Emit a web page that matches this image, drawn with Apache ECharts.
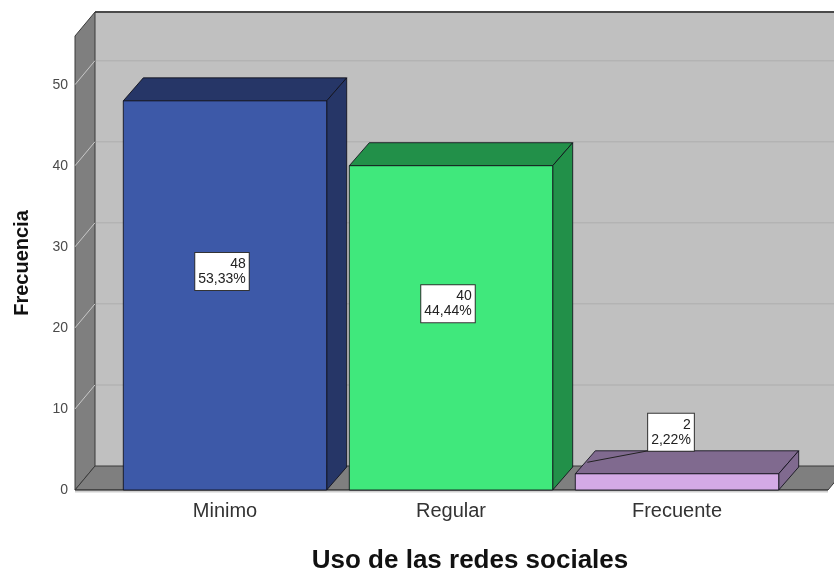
<!DOCTYPE html>
<html><head><meta charset="utf-8">
<script src="https://cdn.jsdelivr.net/npm/echarts@6/dist/echarts.min.js"></script>
<style>html,body{margin:0;padding:0;background:#fff}#c{width:834px;height:574px}</style>
</head><body><div id="c"></div>
<script>
// ---- data ----
const categories = ['Minimo', 'Regular', 'Frecuente'];
const frecuencias = [48, 40, 2];
const yTicks = [0, 10, 20, 30, 40, 50];
const frontColors = ['#3d59a8', '#40e87c', '#d4aae6'];
const shadeColors = ['#263667', '#229049', '#806a8f'];
const xTitle = 'Uso de las redes sociales';
const yTitle = 'Frecuencia';

const total = frecuencias.reduce((a, b) => a + b, 0);
const pctLabels = frecuencias.map(v => (v / total * 100).toFixed(2).replace('.', ',') + '%');

// ---- styling constants ----
const DX = 20, DY = -23;     // bar depth
const WDX = 20, WDY = -24;   // wall depth
const PADL = 37, PADR = 38;  // front frame beyond grid
const FONT = '"Liberation Sans", Arial, sans-serif';
const LBL_FONT = '14px ' + FONT;

const mctx = document.createElement('canvas').getContext('2d');
function textW(s) { mctx.font = LBL_FONT; return mctx.measureText(s).width; }

const chart = echarts.init(document.getElementById('c'), null, { renderer: 'canvas' });

function wallsRender(params, api) {
  const cs = params.coordSys;
  const L = cs.x - PADL, R = cs.x + cs.width + PADR;
  const T = cs.y, B = cs.y + cs.height;
  const RX = R + WDX + 30;
  const ch = [];
  ch.push({ type: 'polygon', shape: { points: [[L + WDX, T + WDY], [RX, T + WDY], [RX, B + WDY], [L + WDX, B + WDY]] },
    style: { fill: '#c0c0c0' } });
  yTicks.forEach(t => {
    if (t === 0) return;
    const y = api.coord([0, t])[1];
    ch.push({ type: 'line', shape: { x1: L + WDX, y1: y + WDY, x2: RX, y2: y + WDY }, style: { stroke: '#b3b3b3', lineWidth: 1.5 } });
  });
  ch.push({ type: 'line', shape: { x1: L + WDX, y1: T + WDY, x2: RX, y2: T + WDY }, style: { stroke: '#4a4a4a', lineWidth: 2 } });
  ch.push({ type: 'polygon', shape: { points: [[L, T], [L + WDX, T + WDY], [L + WDX, B + WDY], [L, B]] },
    style: { fill: '#7f7f7f', stroke: '#3a3a3a', lineWidth: 1 } });
  yTicks.forEach(t => {
    if (t === 0) return;
    const y = api.coord([0, t])[1];
    ch.push({ type: 'line', shape: { x1: L, y1: y, x2: L + WDX, y2: y + WDY }, style: { stroke: '#c8c8c8', lineWidth: 1 } });
  });
  ch.push({ type: 'polygon', shape: { points: [[L, B], [L + WDX, B + WDY], [RX, B + WDY], [RX - WDX, B], [L, B]] },
    style: { fill: '#7f7f7f', stroke: '#3a3a3a', lineWidth: 1 } });
  ch.push({ type: 'polygon', shape: { points: [[R, B], [R + WDX, B + WDY], [RX + 10, B + WDY], [RX + 10, B + 2], [R, B + 2]] },
    style: { fill: '#ffffff' } });
  ch.push({ type: 'line', shape: { x1: R, y1: B, x2: R + WDX, y2: B + WDY }, style: { stroke: '#3a3a3a', lineWidth: 1 } });
  ch.push({ type: 'line', shape: { x1: L, y1: B + 1.5, x2: R, y2: B + 1.5 }, style: { stroke: '#cfcfcf', lineWidth: 2 } });
  ch.push({ type: 'line', shape: { x1: L, y1: B, x2: R, y2: B }, style: { stroke: '#2e2e2e', lineWidth: 1.2 } });
  return { type: 'group', children: ch };
}

function barRender(params, api) {
  const i = api.value(0), v = api.value(1);
  const top = api.coord([i, v]), base = api.coord([i, 0]);
  const bw = api.size([1, 0])[0] * 0.9;
  const cx = top[0];
  const x0 = cx - bw / 2, x1 = cx + bw / 2, yt = top[1], yb = base[1];
  const stroke = 'rgba(15,15,25,0.85)';
  const ch = [
    { type: 'polygon', shape: { points: [[x0, yt], [x0 + DX, yt + DY], [x1 + DX, yt + DY], [x1, yt]] },
      style: { fill: shadeColors[i], stroke: stroke, lineWidth: 1 } },
    { type: 'polygon', shape: { points: [[x1, yt], [x1 + DX, yt + DY], [x1 + DX, yb + DY], [x1, yb]] },
      style: { fill: shadeColors[i], stroke: stroke, lineWidth: 1 } },
    { type: 'rect', shape: { x: x0, y: yt, width: bw, height: yb - yt },
      style: { fill: frontColors[i], stroke: stroke, lineWidth: 1 } }
  ];
  // data label
  const l1 = String(frecuencias[i]), l2 = pctLabels[i];
  const w = Math.max(textW(l1), textW(l2));
  const boxH = 37;
  let bx, by;
  const inside = (yb - yt) > 60;
  if (inside) { bx = cx; by = (yt + yb) / 2 - 24; }
  else { bx = cx - 3; by = yt + DY - boxH / 2; }
  if (!inside) {
    ch.push({ type: 'line', shape: { x1: bx - w / 2 - 6, y1: by + boxH / 2, x2: x0 + DX / 2 + 2, y2: yt + DY / 2 },
      style: { stroke: '#222', lineWidth: 1 } });
  }
  ch.push({ type: 'text', style: {
    text: l1 + '\n' + l2, x: bx + w / 2, y: by, align: 'right', verticalAlign: 'middle',
    font: LBL_FONT, fill: '#222', lineHeight: 15,
    backgroundColor: '#ffffff', borderColor: '#333', borderWidth: 1, padding: [3, 3, 4, 3]
  } });
  return { type: 'group', children: ch };
}

chart.setOption({
  animation: false,
  backgroundColor: '#ffffff',
  grid: { left: 112, right: 44, top: 36, bottom: 84 },
  xAxis: {
    type: 'category', data: categories,
    axisLine: { show: false }, axisTick: { show: false },
    axisLabel: { color: '#333', fontSize: 20, fontFamily: FONT, margin: 11 }
  },
  yAxis: {
    type: 'value', min: 0, max: 56, interval: 10,
    name: yTitle, nameLocation: 'middle', nameGap: 80,
    nameTextStyle: { fontSize: 20, fontWeight: 'bold', color: '#111', fontFamily: FONT },
    axisLine: { show: false }, axisTick: { show: false }, splitLine: { show: false },
    axisLabel: { color: '#4a4a4a', fontSize: 14, fontFamily: FONT, margin: 44, showMaxLabel: false,
      formatter: v => (yTicks.indexOf(v) >= 0 ? String(v) : '') }
  },
  graphic: [{ type: 'text', x: 470, y: 561,
    style: { text: xTitle, font: 'bold 26px ' + FONT, fill: '#111', align: 'center', verticalAlign: 'middle' } }],
  series: [
    { type: 'custom', renderItem: wallsRender, data: [[0, 0]], clip: false, z: 1, silent: true },
    { type: 'custom', renderItem: barRender, clip: false, z: 2,
      data: frecuencias.map((v, i) => [i, v]) }
  ]
});
</script></body></html>
